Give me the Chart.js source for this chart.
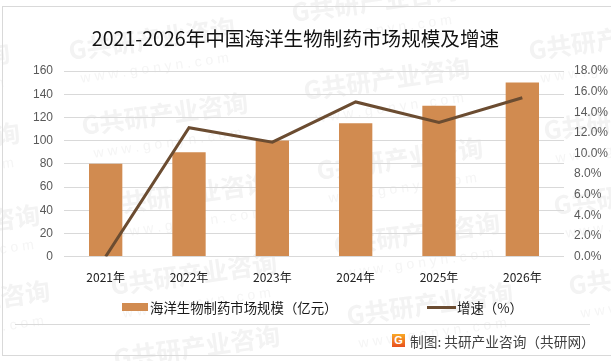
<!DOCTYPE html>
<html>
<head>
<meta charset="utf-8">
<style>
  html, body { margin: 0; padding: 0; background: #fff; overflow: hidden; }
  #wrap { position: relative; width: 611px; height: 361px; overflow: hidden; font-family: "Noto Sans CJK SC", "Noto Sans", sans-serif; }
  #chart { position: absolute; left: 0; top: 0; }
  #frame { position: absolute; left: 2px; top: 6px; width: 620px; height: 348px; border: 1px solid #d9d9d9; }
  #rule { position: absolute; left: 15px; top: 324px; width: 575px; height: 1px; background: #d9d9d9; }
  #title { position: absolute; left: 0; top: 24px; width: 591px; text-align: center; font-size: 19.6px; line-height: 28px; color: #111; white-space: nowrap; }
  .legend-item { position: absolute; top: 297px; font-size: 13.4px; line-height: 20px; color: #1a1a1a; white-space: nowrap; }
  .swatch { position: absolute; }
  #source { position: absolute; left: 410px; top: 331px; font-size: 13.7px; line-height: 20px; color: #404040; white-space: nowrap; }
  #logo { position: absolute; left: 392px; top: 334px; width: 13px; height: 13px; background: linear-gradient(#f9a825, #e8501e); color: #fff; font: bold 11px/13px "Liberation Sans", sans-serif; text-align: center; }
</style>
</head>
<body>
<div id="wrap">
  <canvas id="chart" width="611" height="361"></canvas>
  <div id="frame"></div>
  <div id="rule"></div>
  <div id="title"></div>
  <div class="swatch" id="barSwatch" style="left:122px;top:303px;width:26px;height:8px"></div>
  <div class="legend-item" id="barLabel" style="left:150px"></div>
  <div class="swatch" id="lineSwatch" style="left:427px;top:306px;width:29px;height:3px"></div>
  <div class="legend-item" id="lineLabel" style="left:457px"></div>
  <div id="logo">G</div>
  <div id="source">制图: 共研产业咨询（共研网）</div>
</div>
<script src="https://cdn.jsdelivr.net/npm/chart.js@4"></script>
<script>
const titleText = '2021-2026年中国海洋生物制药市场规模及增速'
const categories = ['2021年', '2022年', '2023年', '2024年', '2025年', '2026年']
const marketSize = [80, 90, 100, 115, 130, 150]
const growthRate = [0, 12.5, 11.1, 15, 13, 15.4]
const barLabel = '海洋生物制药市场规模（亿元）'
const lineLabel = '增速（%）'

const barColor = 'rgb(209, 139, 80)'
const lineColor = 'rgb(107, 76, 49)'
const gridColor = '#d9d9d9'
const cnFont = '"Noto Sans CJK SC", "Noto Sans", sans-serif'

// Watermark stamps, left end of each one
const stamps = [
  [70, 60], [83, 135], [105, 215], [112, 295], [115, 368],
  [-155, 85], [-145, 165], [-125, 247], [-115, 323],
  [293, 22], [305, 100], [318, 180], [335, 255], [348, 325],
  [530, 60], [545, 140], [555, 215], [570, 295]
]

const watermark = {
  id: 'watermark',
  beforeDraw(chart) {
    const ctx = chart.ctx
    stamps.forEach(([x, y]) => {
      ctx.save()
      ctx.translate(x, y)
      ctx.rotate(-8 * Math.PI / 180)
      ctx.fillStyle = '#f3f3f3'
      ctx.font = 'bold 25px ' + cnFont
      ctx.fillText('G共研产业咨询', 0, 0)
      ctx.fillStyle = '#f5f5f5'
      ctx.font = '14px "Liberation Sans", sans-serif'
      ctx.fillText('w w w . g o n y n . c o m', 8, 24)
      ctx.restore()
    })
  }
}

document.getElementById('title').textContent = titleText
document.getElementById('barLabel').textContent = barLabel
document.getElementById('lineLabel').textContent = lineLabel
document.getElementById('barSwatch').style.background = barColor
document.getElementById('lineSwatch').style.background = lineColor

new Chart(document.getElementById('chart').getContext('2d'), {
  data: {
    labels: categories,
    datasets: [
      {
        type: 'line',
        label: lineLabel,
        data: growthRate,
        yAxisID: 'y1',
        borderColor: lineColor,
        borderWidth: 3,
        pointRadius: 0,
        tension: 0,
        order: 1,
      },
      {
        type: 'bar',
        label: barLabel,
        data: marketSize,
        yAxisID: 'y',
        backgroundColor: barColor,
        categoryPercentage: 1,
        barPercentage: 0.4,
        order: 2,
      },
    ]
  },
  options: {
    responsive: false,
    animation: false,
    layout: { padding: { top: 71, bottom: 70, left: 0, right: 0 } },
    plugins: {
      legend: { display: false },
      tooltip: { enabled: false },
    },
    scales: {
      x: {
        grid: { display: false },
        border: { display: false },
        ticks: { color: '#222', font: { family: cnFont, size: 12 }, padding: 6, maxRotation: 0 },
      },
      y: {
        position: 'left',
        min: 0,
        max: 160,
        afterFit(scale) { scale.width = 64 },
        grid: { color: gridColor, drawTicks: false },
        border: { display: false },
        ticks: { stepSize: 20, color: '#595959', font: { family: '"Liberation Sans", sans-serif', size: 12 }, padding: 11 },
      },
      y1: {
        position: 'right',
        min: 0,
        max: 18,
        afterFit(scale) { scale.width = 47 },
        grid: { drawOnChartArea: false, drawTicks: false },
        border: { display: false },
        ticks: {
          stepSize: 2,
          color: '#595959',
          font: { family: '"Liberation Sans", sans-serif', size: 12 },
          padding: 10,
          callback: function(value) {
            return value.toFixed(1) + '%'
          }
        },
      },
    },
  },
  plugins: [watermark],
})
</script>
</body>
</html>
